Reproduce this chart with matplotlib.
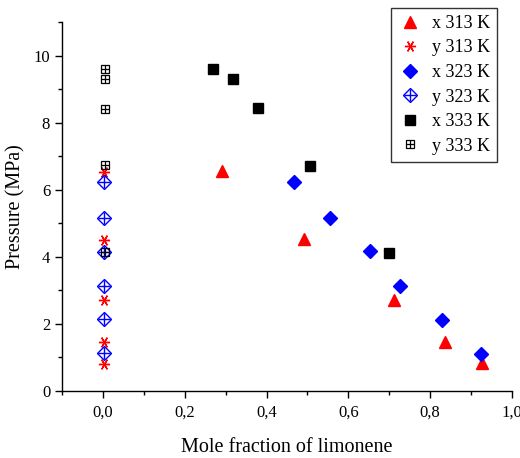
import matplotlib
matplotlib.use("Agg")
import matplotlib.pyplot as plt
from matplotlib.ticker import MultipleLocator, FuncFormatter
from matplotlib.legend_handler import HandlerTuple

plt.rcParams['font.family'] = ['Liberation Serif', 'DejaVu Serif']

# 313 K
x313 = [0.290, 0.491, 0.712, 0.836, 0.926]
px313 = [6.56, 4.52, 2.71, 1.46, 0.83]
y313 = [0.002, 0.002, 0.002, 0.002, 0.002]
py313 = [6.53, 4.51, 2.70, 1.45, 0.81]
# 323 K
x323 = [0.468, 0.556, 0.654, 0.726, 0.828, 0.924]
px323 = [6.24, 5.16, 4.16, 3.13, 2.13, 1.11]
y323 = [0.003, 0.003, 0.003, 0.003, 0.003, 0.003]
py323 = [6.23, 5.17, 4.14, 3.13, 2.14, 1.13]
# 333 K
x333 = [0.270, 0.317, 0.378, 0.505, 0.699]
px333 = [9.60, 9.30, 8.44, 6.71, 4.11]
y333 = [0.005, 0.005, 0.005, 0.005, 0.005]
py333 = [9.61, 9.30, 8.42, 6.73, 4.14]

labels = ['x 313 K', 'y 313 K', 'x 323 K', 'y 323 K', 'x 333 K', 'y 333 K']

fig = plt.figure(figsize=(5.2, 4.58), dpi=100)
ax = fig.add_axes([62/520, 1-391/458, 450/520, 369/458])

h1, = ax.plot(x313, px313, ls='none', marker='^', ms=8, color='red', mec='red')
h2, = ax.plot(y313, py313, ls='none', marker=(6, 2, 90), ms=8, color='red', mew=1.0)
h3, = ax.plot(x323, px323, ls='none', marker='D', ms=7, color='blue', mec='blue')
h4a, = ax.plot(y323, py323, ls='none', marker='D', ms=7, mfc='none', mec='blue', mew=1.0)
h4b, = ax.plot(y323, py323, ls='none', marker='+', ms=9, color='blue', mew=1.0)
h5, = ax.plot(x333, px333, ls='none', marker='s', ms=7, color='black')
h6a, = ax.plot(y333, py333, ls='none', marker='s', ms=6, mfc='none', mec='black', mew=0.9)
h6b, = ax.plot(y333, py333, ls='none', marker='+', ms=6, color='black', mew=0.9)

ax.set_xlim(-0.1, 1.0)
ax.set_ylim(0, 11)
ax.xaxis.set_major_locator(MultipleLocator(0.2))
ax.xaxis.set_minor_locator(MultipleLocator(0.1))
ax.yaxis.set_major_locator(MultipleLocator(2))
ax.yaxis.set_minor_locator(MultipleLocator(1))
ax.xaxis.set_major_formatter(FuncFormatter(lambda v, p: f"{v:.1f}".replace('.', ',')))
ax.tick_params(which='major', direction='out', length=5, width=1, labelsize=12)
ax.tick_params(which='minor', direction='out', length=3, width=1)
ax.tick_params(axis='x', pad=5)
for s in ['top', 'right']:
    ax.spines[s].set_visible(False)
for s in ['left', 'bottom']:
    ax.spines[s].set_linewidth(1.0)

ax.set_xlabel('Mole fraction of limonene', fontsize=14.5, labelpad=12)
ax.set_ylabel('Pressure (MPa)', fontsize=14.5, labelpad=6)

leg = fig.legend([h1, h2, h3, (h4a, h4b), h5, (h6a, h6b)], labels,
                 handler_map={tuple: HandlerTuple(ndivide=1)},
                 loc='upper right', bbox_to_anchor=(497/520, 1-8/458),
                 fontsize=13, frameon=True, fancybox=False, edgecolor='black',
                 borderpad=0.38, labelspacing=0.42, handletextpad=0.5, handlelength=1.4,
                 borderaxespad=0)
leg.get_frame().set_linewidth(1.0)

fig.savefig('out.png', dpi=100)
